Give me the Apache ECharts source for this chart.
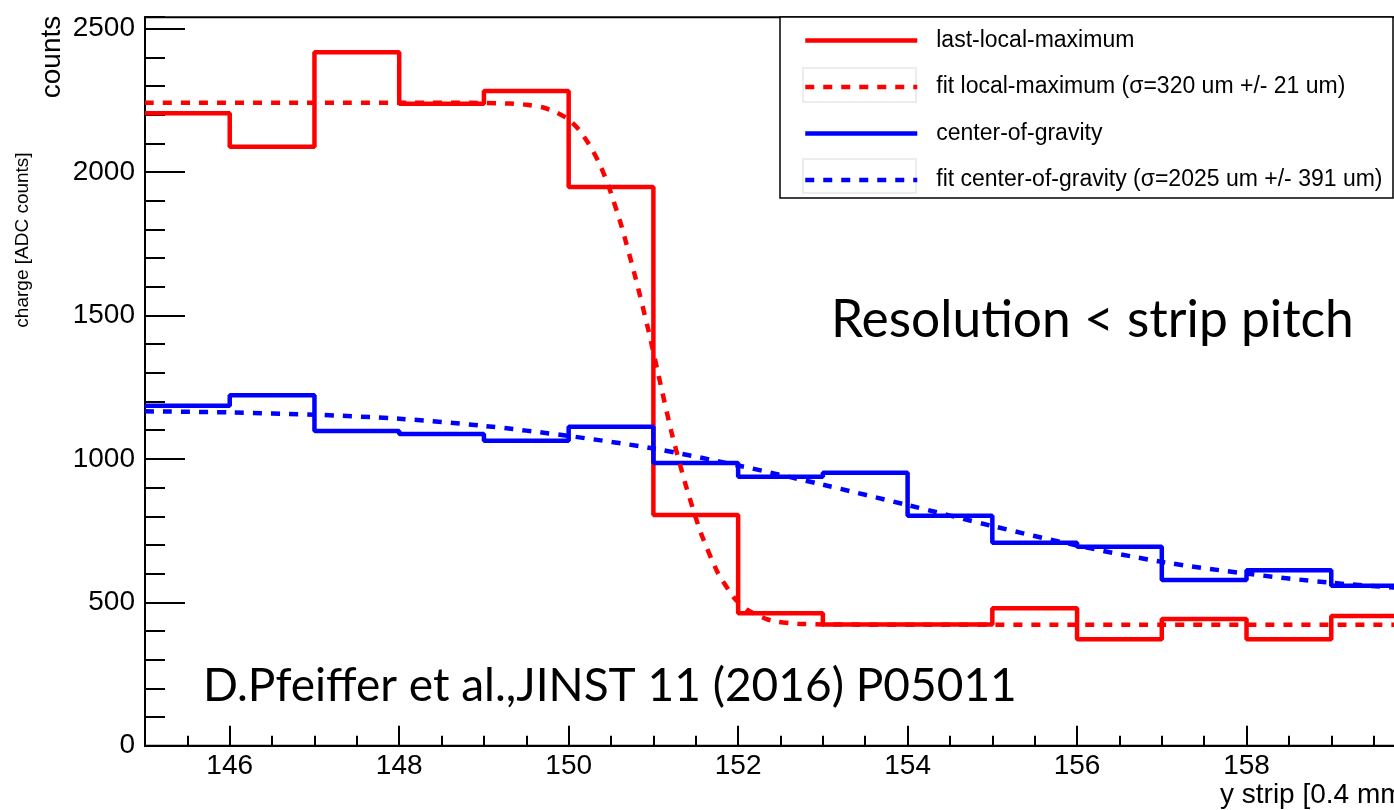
<!DOCTYPE html>
<html>
<head>
<meta charset="utf-8">
<script src="https://cdn.jsdelivr.net/npm/echarts@6/dist/echarts.min.js"></script>
<style>
  html, body { margin: 0; padding: 0; background: #ffffff; }
  #chart { width: 1394px; height: 810px; }
</style>
</head>
<body>
<div id="chart"></div>
<script>
// Strip bins (lower edges plus the final upper edge)
const binEdges = [145, 146, 147, 148, 149, 150, 151, 152, 153, 154, 155, 156, 157, 158, 159, 160];

// Charge per strip, one value per bin
const lastLocalMax    = [2205, 2088, 2418, 2238, 2283, 1948, 804, 462, 423, 423, 479, 371, 442, 371, 452];
const centerOfGravity = [1185, 1222, 1097, 1087, 1063, 1112, 986, 938, 952, 802, 708, 694, 578, 612, 558];

// Fitted edge profiles, sampled along the strip axis
const fitLocalMaxX = [145, 147, 148.5, 149.0, 149.3, 149.5, 149.7, 149.85, 150.0, 150.12, 150.24, 150.36, 150.47, 150.62, 150.79, 150.94, 151.06, 151.21, 151.38, 151.56, 151.76, 151.96, 152.1, 152.2, 152.35, 152.47, 152.7, 153.0, 153.5, 156, 160];
const fitLocalMaxY = [2242, 2242, 2242, 2241, 2239, 2235, 2225, 2209, 2184, 2148, 2097, 2032, 1952, 1815, 1630, 1450, 1292, 1097, 910, 742, 603, 513, 476, 459, 440, 432, 425, 423, 422, 422, 422];

const fitCogX = [145, 146, 147, 148, 149, 150, 151, 152, 153, 154, 155, 156, 157, 158, 159, 160];
const fitCogY = [1166, 1162, 1154, 1140, 1115, 1080, 1036, 977, 910, 839, 766, 698, 641, 600, 568, 546];

// Axis labels
const xTickLabels = [146, 148, 150, 152, 154, 156, 158, 160];
const yTickLabels = [0, 500, 1000, 1500, 2000, 2500];

const seriesNames = [
  'last-local-maximum',
  'fit local-maximum (\u03c3=320 um +/- 21 um)',
  'center-of-gravity',
  'fit center-of-gravity (\u03c3=2025 um +/- 391 um)'
];

const RED = '#ff0000';
const BLUE = '#0000ff';
const SANS = '"Liberation Sans", Arial, Helvetica, sans-serif';
const HUMANIST = 'Lato, "Open Sans", sans-serif';

// Histogram outline: value held across each bin, closed at the last upper edge
function histogram(edges, values) {
  const pts = values.map((v, i) => [edges[i], v]);
  pts.push([edges[edges.length - 1], values[values.length - 1]]);
  return pts;
}
function pairs(xs, ys) { return xs.map((x, i) => [x, ys[i]]); }

const chart = echarts.init(document.getElementById('chart'), null, { renderer: 'canvas' });

const yMax = 2540;
const plain = v => String(v);

const option = {
  animation: false,
  backgroundColor: '#ffffff',
  grid: {
    left: 145, right: -22, top: 17.2, bottom: 64.3,
    show: true, borderColor: '#000', borderWidth: 2, backgroundColor: 'transparent',
    containLabel: false, outerBoundsMode: 'none'
  },
  xAxis: [
    {
      type: 'value', min: 145, max: 160, position: 'bottom',
      axisLine: { show: true, onZero: false, lineStyle: { color: '#000', width: 2 } },
      axisTick: { show: true, inside: true, length: 20, customValues: xTickLabels, lineStyle: { color: '#000', width: 2 } },
      axisLabel: { show: true, customValues: xTickLabels, formatter: plain, margin: 7, color: '#000', fontSize: 28, fontFamily: SANS },
      splitLine: { show: false }
    },
    {
      type: 'value', min: 145, max: 160, interval: 0.5, position: 'bottom', offset: 0,
      axisLine: { show: false },
      axisTick: { show: true, inside: true, length: 10, lineStyle: { color: '#000', width: 2 } },
      axisLabel: { show: false },
      splitLine: { show: false }
    }
  ],
  yAxis: [
    {
      type: 'value', min: 0, max: yMax, position: 'left',
      axisLine: { show: true, onZero: false, lineStyle: { color: '#000', width: 2 } },
      axisTick: { show: true, inside: true, length: 40, customValues: yTickLabels, lineStyle: { color: '#000', width: 2 } },
      axisLabel: { show: true, customValues: yTickLabels, formatter: plain, margin: 10, color: '#000', fontSize: 28, fontFamily: SANS },
      splitLine: { show: false }
    },
    {
      type: 'value', min: 0, max: yMax, interval: 100, position: 'left', offset: 0,
      axisLine: { show: false },
      axisTick: { show: true, inside: true, length: 20, lineStyle: { color: '#000', width: 2 } },
      axisLabel: { show: false },
      splitLine: { show: false }
    }
  ],
  legend: {
    orient: 'vertical', left: 803, top: 29, padding: 0,
    itemWidth: 112, itemHeight: 22, itemGap: 23.5,
    data: seriesNames,
    textStyle: { color: '#000', fontSize: 23, fontFamily: SANS, lineHeight: 22, padding: [0, 0, 0, 14] },
    itemStyle: { opacity: 0 },
    lineStyle: { width: 4.5 },
    selectedMode: false,
    z: 6
  },
  graphic: [
    // legend frame
    { type: 'rect', z: 3, shape: { x: 780, y: 17, width: 613, height: 181 },
      style: { fill: '#fff', stroke: '#000', lineWidth: 1.5 } },
    { type: 'rect', z: 4, shape: { x: 803, y: 68, width: 113, height: 34 },
      style: { fill: 'none', stroke: '#ececec', lineWidth: 2 } },
    { type: 'rect', z: 4, shape: { x: 803, y: 159, width: 113, height: 34 },
      style: { fill: 'none', stroke: '#ececec', lineWidth: 2 } },
    // axis titles
    { type: 'text', x: 52, y: 57, rotation: Math.PI / 2,
      style: { text: 'counts', fill: '#000', font: '28px ' + SANS, textAlign: 'center', textVerticalAlign: 'middle' } },
    { type: 'text', x: 23, y: 240, rotation: Math.PI / 2,
      style: { text: 'charge [ADC counts]', fill: '#000', font: '19px ' + SANS, textAlign: 'center', textVerticalAlign: 'middle' } },
    { type: 'text', x: 1220, y: 795,
      style: { text: 'y strip [0.4 mm]', fill: '#000', font: '28px ' + SANS, textAlign: 'left', textVerticalAlign: 'middle' } },
    // annotations
    { type: 'text', x: 831, y: 320, z: 5,
      style: { text: 'Resolution < strip pitch', fill: '#000', font: '51.5px ' + HUMANIST, textAlign: 'left', textVerticalAlign: 'middle' } },
    { type: 'text', x: 203, y: 686, z: 5,
      style: { text: 'D.Pfeiffer et al.,JINST 11 (2016) P05011', fill: '#000', font: '46px ' + HUMANIST, textAlign: 'left', textVerticalAlign: 'middle' } }
  ],
  series: [
    {
      name: seriesNames[0], type: 'line', step: 'end', xAxisIndex: 0, yAxisIndex: 0,
      data: histogram(binEdges, lastLocalMax),
      symbol: 'none', showSymbol: false, color: RED,
      lineStyle: { color: RED, width: 4.5 }, z: 2
    },
    {
      name: seriesNames[2], type: 'line', step: 'end', xAxisIndex: 0, yAxisIndex: 0,
      data: histogram(binEdges, centerOfGravity),
      symbol: 'none', showSymbol: false, color: BLUE,
      lineStyle: { color: BLUE, width: 4.5 }, z: 2
    },
    {
      name: seriesNames[1], type: 'line', xAxisIndex: 0, yAxisIndex: 0,
      data: pairs(fitLocalMaxX, fitLocalMaxY),
      smooth: 0.2,
      symbol: 'none', showSymbol: false, color: RED,
      lineStyle: { color: RED, width: 4.5, type: [9, 9] }, z: 2
    },
    {
      name: seriesNames[3], type: 'line', xAxisIndex: 0, yAxisIndex: 0,
      data: pairs(fitCogX, fitCogY),
      smooth: 0.3,
      symbol: 'none', showSymbol: false, color: BLUE,
      lineStyle: { color: BLUE, width: 4.5, type: [9, 9] }, z: 2
    }
  ]
};

chart.setOption(option);
</script>
</body>
</html>
